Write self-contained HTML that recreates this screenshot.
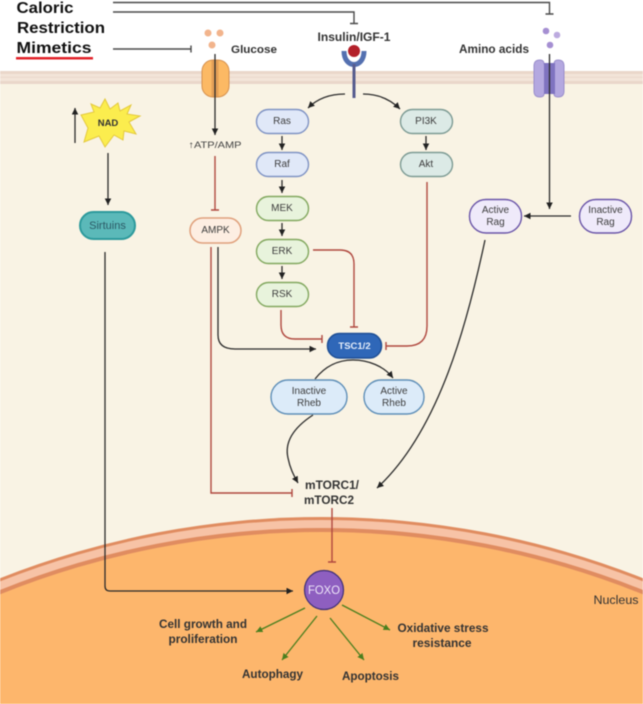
<!DOCTYPE html>
<html><head><meta charset="utf-8"><style>
html,body{margin:0;padding:0;background:#fff;width:643px;height:704px;overflow:hidden}
svg{display:block;filter:blur(.45px)}
text{font-family:"Liberation Sans",sans-serif;fill:#333;text-anchor:middle}
.b{font-weight:700}
.k{fill:none;stroke:#2b2b2b;stroke-width:1.3}
.g{fill:none;stroke:#4a4a4a;stroke-width:1.4}
.r{fill:none;stroke:#b0483f;stroke-width:1.4}
.gr{fill:none;stroke:#4a7f1e;stroke-width:1.3}
.n{font-size:10px;fill:#3c3c3c}
</style></head><body>
<svg xmlns="http://www.w3.org/2000/svg" width="643" height="704" viewBox="0 0 643 704">
<defs>
<marker id="a" markerWidth="8" markerHeight="8" refX="6.500" refY="3.250" orient="auto" markerUnits="userSpaceOnUse"><path d="M0 0L6.500 3.250L0 6.500Z" fill="#222"/></marker>
<marker id="ag" markerWidth="8" markerHeight="8" refX="6.500" refY="3.250" orient="auto" markerUnits="userSpaceOnUse"><path d="M0 0L6.500 3.250L0 6.500Z" fill="#4a7f1e"/></marker>
</defs>
<rect width="643" height="704" fill="#fff"/>
<rect y="71" width="643" height="633" fill="#f9f3e4"/>
<rect y="71" width="643" height="13" fill="#f3e5d9"/>
<rect y="71" width="643" height="3" fill="#ead7ca"/>
<rect y="76.500" width="643" height="1.500" fill="#eddccf"/>
<rect y="81" width="643" height="3" fill="#ead7ca"/>
<path d="M0 578.200A875 875 0 0 1 643 578.200V704H0Z" fill="#e08c60"/>
<path d="M0 581.400A872 872 0 0 1 643 581.400V704H0Z" fill="#f7c3a6"/>
<path d="M0 590A864 864 0 0 1 643 590V704H0Z" fill="#e08c60"/>
<path d="M0 594.400A860 860 0 0 1 643 594.400V704H0Z" fill="#fdb66c"/>

<text x="45" y="13" class="b" font-size="16" style="fill:#111" textLength="57" lengthAdjust="spacingAndGlyphs">Caloric</text>
<text x="61" y="33" class="b" font-size="16" style="fill:#111" textLength="88" lengthAdjust="spacingAndGlyphs">Restriction</text>
<text x="54" y="53" class="b" font-size="16" style="fill:#111" textLength="75" lengthAdjust="spacingAndGlyphs">Mimetics</text>
<rect x="16" y="57" width="77" height="2.500" fill="#e2232a"/>

<path class="g" d="M113 2.500H549.500V14M545.500 14H553.500M113 12H354V23M350 23.500H358M113 49H191M191 45.500V52.500"/>

<circle cx="208" cy="33" r="3.500" fill="#f2b48c"/><circle cx="220" cy="33" r="3.500" fill="#f2b48c"/><circle cx="212" cy="45" r="3.500" fill="#f2b48c"/>
<text x="254" y="53" class="b" font-size="11" textLength="46" lengthAdjust="spacingAndGlyphs">Glucose</text>
<rect x="202" y="60" width="27" height="37" rx="11" fill="#fcb964" stroke="#d6914f"/>
<path d="M215 60V97" stroke="#d6914f" stroke-width="7" opacity=".6"/>
<path class="k" d="M215 54V135" marker-end="url(#a)"/>
<text x="215" y="148" font-size="9.500" style="fill:#444" textLength="53" lengthAdjust="spacingAndGlyphs">↑ATP/AMP</text>
<path class="r" d="M215 156V210M211 210H219"/>

<text x="354" y="41" class="b" font-size="11.500" textLength="73" lengthAdjust="spacingAndGlyphs">Insulin/IGF-1</text>
<path d="M344 51C344 69 364 69 364 51" fill="#fff" stroke="#5470b0" stroke-width="5"/>
<path d="M354 64V98" stroke="#565c8e" stroke-width="3"/>
<circle cx="354" cy="51" r="6" fill="#b3202a"/>
<path class="k" d="M345 94C330 94 318 98 308 108" marker-end="url(#a)"/>
<path class="k" d="M363 94C378 94 390 99 400 109" marker-end="url(#a)"/>

<text x="494" y="53" class="b" font-size="11.500" textLength="70" lengthAdjust="spacingAndGlyphs">Amino acids</text>
<circle cx="546" cy="31" r="3.300" fill="#a58fd2"/><circle cx="557" cy="35" r="3.300" fill="#bcaadf"/><circle cx="550" cy="45" r="3.300" fill="#a58fd2"/>
<path d="M534 66Q534 60 540 60Q544 60 544 64Q549 68 554 64Q554 60 558 60Q564 60 564 66V91Q564 97 558 97Q554 97 554 94Q549 90 544 94Q544 97 540 97Q534 97 534 91Z" fill="#b4a8e0" stroke="#9a8ecb"/>
<rect x="544" y="63" width="11" height="31" fill="#7f73c0"/>
<path class="k" d="M549.500 54V209" marker-end="url(#a)"/>
<path class="k" d="M571 216H524" marker-end="url(#a)"/>

<path d="M105 99L110 109L118 103L120 111L131 105L127 114L140 116L129 122L136 134L124 131L123 140L114 135L105 147L99 136L84 142L88 128L81 115L94 112L91 104L100 108Z" fill="#fbed4e" stroke="#e4c93c"/>
<text x="108" y="126" class="b" font-size="9.500">NAD</text>
<path class="k" d="M75 143V108" marker-end="url(#a)"/>
<path class="k" d="M108 153V205" marker-end="url(#a)"/>
<rect x="80" y="212" width="55" height="27" rx="13.500" fill="#5bb9b9" stroke="#2d9a9c" stroke-width="2"/>
<text x="107.500" y="229" font-size="11" style="fill:#2c5a66">Sirtuins</text>
<rect x="190" y="218" width="51" height="25" rx="12.500" fill="#fdeee2" stroke="#e0a07c" stroke-width="1.500"/>
<text x="215.500" y="233" class="n">AMPK</text>

<g stroke-width="1.400">
<rect x="256.500" y="109.500" width="52" height="24" rx="12" fill="#e0e8f8" stroke="#7f93c4"/>
<rect x="256.500" y="152.500" width="52" height="24" rx="12" fill="#e0e8f8" stroke="#7f93c4"/>
<rect x="256.500" y="196.500" width="52" height="24" rx="12" fill="#e8f3dc" stroke="#82a85f"/>
<rect x="256.500" y="239.500" width="52" height="24" rx="12" fill="#e8f3dc" stroke="#82a85f"/>
<rect x="256.500" y="282.500" width="52" height="24" rx="12" fill="#e8f3dc" stroke="#82a85f"/>
<rect x="400.500" y="109.500" width="52" height="24" rx="12" fill="#dceae6" stroke="#7d9b94"/>
<rect x="400.500" y="152.500" width="52" height="24" rx="12" fill="#dceae6" stroke="#7d9b94"/>
</g>
<text x="282" y="124" class="n">Ras</text><text x="282" y="167" class="n">Raf</text><text x="282" y="211" class="n">MEK</text><text x="282" y="254" class="n">ERK</text><text x="282" y="297" class="n">RSK</text>
<text x="426" y="124" class="n">PI3K</text><text x="426" y="167" class="n">Akt</text>
<path class="k" d="M282 136V150" marker-end="url(#a)"/><path class="k" d="M282 180V193" marker-end="url(#a)"/><path class="k" d="M282 223V236" marker-end="url(#a)"/><path class="k" d="M282 266V279" marker-end="url(#a)"/><path class="k" d="M426 136V150" marker-end="url(#a)"/>

<path class="r" d="M427 182V326Q427 346 407 346H386M386 342V350"/>
<path class="r" d="M313 250H340Q354 250 354 264V327M350 327H358"/>
<path class="r" d="M281 310V325Q281 339 295 339H322M322 335V343"/>
<path class="k" d="M218 247V335Q218 349 235 349H316" marker-end="url(#a)"/>
<path class="r" d="M211 247V493H292M292 489V497"/>

<rect x="327.500" y="333.500" width="54" height="24.500" rx="12" fill="#2f67b8" stroke="#1f4f95" stroke-width="1.500"/>
<text x="354.500" y="349" font-size="9.500" style="fill:#e6eefa" class="b">TSC1/2</text>
<path class="k" d="M315 379C326 365 340 360 353 360C368 360 384 366 393 378" marker-end="url(#a)"/>
<rect x="271" y="380" width="76" height="34" rx="17" fill="#dcebf9" stroke="#5f8fb8" stroke-width="1.400"/>
<rect x="364" y="380" width="60" height="34" rx="17" fill="#dcebf9" stroke="#5f8fb8" stroke-width="1.400"/>
<text x="309" y="394" class="n">Inactive</text><text x="309" y="406" class="n">Rheb</text>
<text x="394" y="394" class="n">Active</text><text x="394" y="406" class="n">Rheb</text>
<path class="k" d="M313 415C290 430 285 445 288 458C290 468 293 474 298 483" marker-end="url(#a)"/>

<rect x="469.500" y="199.500" width="52" height="33.500" rx="16.500" fill="#efeafa" stroke="#6a55a8" stroke-width="1.400"/>
<rect x="579.500" y="199.500" width="52" height="33.500" rx="16.500" fill="#efeafa" stroke="#6a55a8" stroke-width="1.400"/>
<text x="495.500" y="213" class="n">Active</text><text x="495.500" y="225" class="n">Rag</text>
<text x="605.500" y="213" class="n">Inactive</text><text x="605.500" y="225" class="n">Rag</text>
<path class="k" d="M485 240C468 320 440 430 377 488" marker-end="url(#a)"/>

<text x="332" y="489" class="b" font-size="12" textLength="54" lengthAdjust="spacingAndGlyphs">mTORC1/</text>
<text x="329" y="504" class="b" font-size="12" textLength="50" lengthAdjust="spacingAndGlyphs">mTORC2</text>
<path class="r" d="M332 508V562M328 562H336"/>
<path class="k" d="M105 252V586Q105 591 110 591H293" marker-end="url(#a)"/>
<circle cx="324" cy="590" r="19.500" fill="#8e5fc0" stroke="#3e2f78" stroke-width="1.200"/>
<text x="324" y="594" font-size="12" style="fill:#eee6f8" textLength="32" lengthAdjust="spacingAndGlyphs">FOXO</text>
<path class="gr" d="M305 608L256 632" marker-end="url(#ag)"/>
<path class="gr" d="M317 616L282 660" marker-end="url(#ag)"/>
<path class="gr" d="M342 605L390 630" marker-end="url(#ag)"/>
<path class="gr" d="M330 618L364 660" marker-end="url(#ag)"/>
<text x="203" y="628" class="b" font-size="12" textLength="88" lengthAdjust="spacingAndGlyphs">Cell growth and</text>
<text x="203" y="643" class="b" font-size="12" textLength="69" lengthAdjust="spacingAndGlyphs">proliferation</text>
<text x="272.500" y="678" class="b" font-size="12" textLength="61" lengthAdjust="spacingAndGlyphs">Autophagy</text>
<text x="370.500" y="680" class="b" font-size="12" textLength="57" lengthAdjust="spacingAndGlyphs">Apoptosis</text>
<text x="443" y="632" class="b" font-size="12" textLength="91" lengthAdjust="spacingAndGlyphs">Oxidative stress</text>
<text x="442" y="647" class="b" font-size="12" textLength="59" lengthAdjust="spacingAndGlyphs">resistance</text>
<text x="616" y="604" font-size="11.500" textLength="45" lengthAdjust="spacingAndGlyphs">Nucleus</text>
</svg>
</body></html>
